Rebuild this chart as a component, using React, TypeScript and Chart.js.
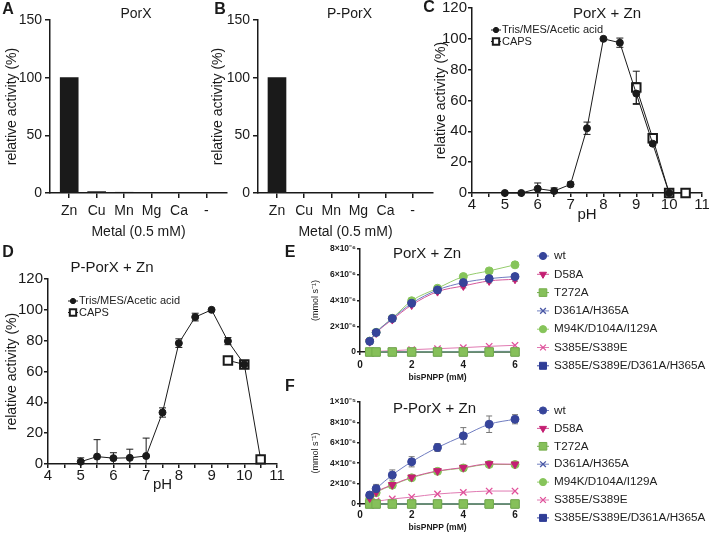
import React, { useEffect, useRef } from 'react';
import { Chart, registerables } from 'chart.js';

Chart.register(...registerables);

const FONT = '"Liberation Sans", Arial, Helvetica, sans-serif';
const INK = '#1a1a1a';

// ---------- data ----------
const metalLabels = ['Zn', 'Cu', 'Mn', 'Mg', 'Ca', '-'];
const metalTickPos = [0, 1, 2, 3, 4, 5];
const porXMetalActivity = [100, 1.2, 0.6, 0, 0, 0];
const pPorXMetalActivity = [100, 0, 0, 0, 0, 0];
const metalYTicks = [0, 50, 100, 150];

const phXTicks = [4, 4.5, 5, 5.5, 6, 6.5, 7, 7.5, 8, 8.5, 9, 9.5, 10, 10.5, 11];
const phYTicks = [0, 20, 40, 60, 80, 100, 120];
const bufferLabels = ['Tris/MES/Acetic acid', 'CAPS'];

const cTrisPH = [5, 5.5, 6, 6.5, 7, 7.5, 8, 8.5, 9, 9.5, 10];
const cTrisActivity = [0, 0, 2.8, 1.3, 5.6, 42, 100, 97.5, 64.5, 32, 0];
const cTrisError = [0, 0, 3.7, 2, 1.5, 4, 0, 3, 7, 1, 0];
const cCapsPH = [9, 9.5, 10, 10.5];
const cCapsActivity = [68.5, 35.5, 0, 0];
const cCapsError = [10.5, 1, 0, 0];

const dTrisPH = [5, 5.5, 6, 6.5, 7, 7.5, 8, 8.5, 9, 9.5, 10];
const dTrisActivity = [1.5, 4.8, 3.8, 4, 5.2, 33.4, 78.4, 95.3, 100, 79.7, 64.6];
const dTrisError = [2.5, 11, 3.5, 5.6, 11.6, 3, 2.8, 2.5, 0, 2.3, 0];
const dCapsPH = [9.5, 10, 10.5];
const dCapsActivity = [67.2, 64.6, 3];
const dCapsError = [1.5, 0, 0];

const mutantLabels = ['wt', 'D58A', 'T272A', 'D361A/H365A', 'M94K/D104A/I129A', 'S385E/S389E', 'S385E/S389E/D361A/H365A'];
const substrateMM = [0.375, 0.625, 1.25, 2, 3, 4, 5, 6];
const kinXTicks = [0, 2, 4, 6];

const eWt = [0.83e-6, 1.51e-6, 2.6e-6, 3.78e-6, 4.82e-6, 5.39e-6, 5.7e-6, 5.86e-6];
const eD58A = [0.8e-6, 1.48e-6, 2.52e-6, 3.65e-6, 4.69e-6, 5.13e-6, 5.52e-6, 5.65e-6];
const eT272A = [0, 0, 0, 0, 0, 0, 0, 0];
const eD361A = [0.02e-6, 0.02e-6, 0.03e-6, 0.03e-6, 0.04e-6, 0.04e-6, 0.05e-6, 0.05e-6];
const eM94K = [0.85e-6, 1.53e-6, 2.62e-6, 3.98e-6, 4.95e-6, 5.86e-6, 6.3e-6, 6.77e-6];
const eS385E = [0.04e-6, 0.05e-6, 0.1e-6, 0.18e-6, 0.26e-6, 0.34e-6, 0.44e-6, 0.52e-6];
const eQuad = [0, 0, 0, 0, 0, 0, 0, 0];
const eWtErr = [0.1e-6, 0.1e-6, 0.12e-6, 0.15e-6, 0.15e-6, 0.2e-6, 0.15e-6, 0.2e-6];
const eD58AErr = [0.1e-6, 0.1e-6, 0.15e-6, 0.1e-6, 0.15e-6, 0.15e-6, 0.15e-6, 0.15e-6];
const eYTicks = [0, 2e-6, 4e-6, 6e-6, 8e-6];
const eYTickLabels = ['0', '2×10⁻⁶', '4×10⁻⁶', '6×10⁻⁶', '8×10⁻⁶'];

const fWt = [0.88e-6, 1.5e-6, 2.84e-6, 4.14e-6, 5.54e-6, 6.68e-6, 7.82e-6, 8.31e-6];
const fD58A = [0.58e-6, 1.16e-6, 1.88e-6, 2.62e-6, 3.24e-6, 3.57e-6, 3.93e-6, 3.9e-6];
const fT272A = [0, 0, 0, 0, 0, 0, 0, 0];
const fD361A = [0.02e-6, 0.02e-6, 0.02e-6, 0.03e-6, 0.03e-6, 0.03e-6, 0.04e-6, 0.04e-6];
const fM94K = [0.52e-6, 1.1e-6, 1.84e-6, 2.57e-6, 3.2e-6, 3.53e-6, 3.88e-6, 3.87e-6];
const fS385E = [0.3e-6, 0.3e-6, 0.49e-6, 0.68e-6, 0.98e-6, 1.14e-6, 1.27e-6, 1.27e-6];
const fQuad = [0, 0, 0, 0, 0, 0, 0, 0];
const fWtErr = [0.15e-6, 0.42e-6, 0.5e-6, 0.5e-6, 0.39e-6, 0.81e-6, 0.81e-6, 0.45e-6];
const fD58AErr = [0.1e-6, 0.15e-6, 0.15e-6, 0.12e-6, 0.12e-6, 0.1e-6, 0.12e-6, 0.12e-6];
const fYTicks = [0, 2e-6, 4e-6, 6e-6, 8e-6, 1e-5];
const fYTickLabels = ['0', '2×10⁻⁶', '4×10⁻⁶', '6×10⁻⁶', '8×10⁻⁶', '1×10⁻⁵'];

// ---------- helpers ----------
const fixV = (w: number) => (s: any) => {
  s.width = w; s.paddingTop = 0; s.paddingBottom = 0; s.paddingLeft = 0; s.paddingRight = 0;
};
const fixH = (h: number) => (s: any) => {
  s.height = h; s.paddingTop = 0; s.paddingBottom = 0; s.paddingLeft = 0; s.paddingRight = 0;
};
const setTicks = (vals: number[]) => (s: any) => { s.ticks = vals.map((v) => ({ value: v })); };
const font = (size: number, weight: any = 'normal', lineHeight: number = 1.2) => ({ family: FONT, size, weight, lineHeight });
const axisLook = (tickLength: number, lw = 1.5) => ({
  offset: false,
  grid: { display: true, offset: false, drawOnChartArea: false, drawTicks: true, tickLength, color: INK, lineWidth: lw },
  border: { display: true, color: INK, width: lw },
});
const xy = (xs: number[], ys: number[]) => xs.map((x, i) => ({ x, y: ys[i] }));

function drawMarker(ctx: CanvasRenderingContext2D, style: string, x: number, y: number, r: number, rot: number, fill: string, stroke: string, bw: number) {
  ctx.save();
  ctx.translate(x, y);
  ctx.rotate((rot * Math.PI) / 180);
  ctx.beginPath();
  let fillIt = true;
  if (style === 'circle') {
    ctx.arc(0, 0, r, 0, Math.PI * 2);
  } else if (style === 'rect') {
    const s = r * Math.SQRT1_2;
    ctx.rect(-s, -s, 2 * s, 2 * s);
  } else if (style === 'triangle') {
    for (let k = 0; k < 3; k++) {
      const a = (k * 2 * Math.PI) / 3;
      const px = Math.sin(a) * r, py = -Math.cos(a) * r;
      if (k === 0) ctx.moveTo(px, py); else ctx.lineTo(px, py);
    }
    ctx.closePath();
  } else if (style === 'crossRot') {
    const c = r * Math.SQRT1_2;
    ctx.moveTo(-c, -c); ctx.lineTo(c, c);
    ctx.moveTo(-c, c); ctx.lineTo(c, -c);
    fillIt = false;
  }
  if (fillIt) { ctx.fillStyle = fill; ctx.fill(); }
  ctx.lineWidth = bw; ctx.strokeStyle = stroke; ctx.stroke();
  ctx.restore();
}

const textPlugin = {
  id: 'panelText',
  afterDraw(chart: any, _a: any, opts: any) {
    const ctx = chart.ctx;
    (opts.items || []).forEach((it: any) => {
      ctx.save();
      ctx.font = it.font;
      ctx.fillStyle = INK;
      ctx.textAlign = it.align || 'center';
      ctx.textBaseline = 'middle';
      ctx.fillText(it.text, it.x, it.y);
      ctx.restore();
    });
  },
};

const errorBarPlugin = {
  id: 'errorBars',
  beforeDatasetsDraw(chart: any) {
    const { ctx, chartArea } = chart;
    ctx.save();
    ctx.beginPath();
    ctx.rect(chartArea.left - 20, chartArea.top - 20, chartArea.width + 40, chartArea.height + 20);
    ctx.clip();
    chart.data.datasets.forEach((ds: any, i: number) => {
      if (!ds.errors) return;
      const meta = chart.getDatasetMeta(i);
      const ys = chart.scales[meta.yAxisID];
      ctx.strokeStyle = ds.errorColor || INK;
      ctx.lineWidth = ds.errorWidth || 1;
      meta.data.forEach((pt: any, j: number) => {
        const e = ds.errors[j];
        if (!e) return;
        const v = ds.data[j].y;
        const y1 = ys.getPixelForValue(v + e);
        const y2 = ys.getPixelForValue(v - e);
        const cap = ds.errorCap || 3;
        ctx.beginPath();
        ctx.moveTo(pt.x, y1); ctx.lineTo(pt.x, y2);
        ctx.moveTo(pt.x - cap, y1); ctx.lineTo(pt.x + cap, y1);
        ctx.moveTo(pt.x - cap, y2); ctx.lineTo(pt.x + cap, y2);
        ctx.stroke();
      });
    });
    ctx.restore();
  },
};

const legendPlugin = {
  id: 'markerLegend',
  afterDraw(chart: any, _a: any, opts: any) {
    if (!opts || !opts.order) return;
    const ctx = chart.ctx;
    opts.order.forEach((dsIndex: number, k: number) => {
      const ds = chart.data.datasets[dsIndex];
      const x = opts.x;
      const y = opts.y + k * opts.dy;
      ctx.save();
      ctx.strokeStyle = ds.borderColor;
      ctx.lineWidth = 1;
      ctx.beginPath();
      ctx.moveTo(x - opts.half, y); ctx.lineTo(x + opts.half, y);
      ctx.stroke();
      drawMarker(ctx, ds.pointStyle, x, y, ds.pointRadius * opts.scale, ds.pointRotation || 0, ds.pointBackgroundColor, ds.pointBorderColor, ds.pointBorderWidth);
      ctx.font = opts.font;
      ctx.fillStyle = '#222';
      ctx.textAlign = 'left';
      ctx.textBaseline = 'middle';
      ctx.fillText(ds.label, x + opts.gap, y);
      ctx.restore();
    });
  },
};

// ---------- chart configs ----------
function metalConfig(values: number[], o: any) {
  return {
    type: 'bar',
    data: {
      datasets: [{
        data: xy(metalTickPos, values),
        backgroundColor: INK,
        borderWidth: 0,
        barThickness: 18,
      }],
    },
    options: {
      responsive: false, animation: false, devicePixelRatio: 1,
      layout: { autoPadding: false, padding: { left: 0, top: 20, right: o.padRight, bottom: 0 } },
      plugins: { legend: { display: false }, tooltip: { enabled: false }, panelText: { items: o.texts } },
      scales: {
        x: {
          type: 'linear', min: -0.7, max: 5.75, ...axisLook(5),
          afterFit: fixH(57), afterBuildTicks: setTicks(metalTickPos),
          ticks: { font: font(14, 'normal', 1), color: INK, padding: 6, maxRotation: 0, autoSkip: false, callback: (v: any) => metalLabels[v] ?? '' },
          title: { display: true, text: 'Metal (0.5 mM)', font: font(14), color: INK, padding: { top: 0, bottom: 9.6 } },
        },
        y: {
          min: 0, max: 150, ...axisLook(5),
          afterFit: fixV(o.yWidth), afterBuildTicks: setTicks(metalYTicks),
          ticks: { font: font(14, 'normal', 1), color: INK, padding: 3 },
          title: { display: true, text: 'relative activity (%)', font: font(14), color: INK, padding: { top: o.yTitlePad, bottom: 0 } },
        },
      },
    },
    plugins: [textPlugin],
  };
}

function phConfig(trisX: number[], trisY: number[], trisE: number[], capsX: number[], capsY: number[], capsE: number[], o: any) {
  return {
    type: 'line',
    data: {
      datasets: [
        {
          label: bufferLabels[0], data: xy(trisX, trisY), errors: trisE, errorCap: 3.5,
          borderColor: INK, borderWidth: 1, tension: 0, clip: false,
          pointStyle: 'circle', pointRadius: 3.5, pointBackgroundColor: INK, pointBorderColor: INK, pointBorderWidth: 1,
        },
        {
          label: bufferLabels[1], data: xy(capsX, capsY), errors: capsE, errorCap: 3.5,
          borderColor: INK, borderWidth: 1, tension: 0, clip: false,
          pointStyle: 'rect', pointRadius: 6, pointBackgroundColor: '#ffffff', pointBorderColor: INK, pointBorderWidth: 2,
        },
      ],
    },
    options: {
      responsive: false, animation: false, devicePixelRatio: 1,
      layout: { autoPadding: false, padding: { left: 0, top: o.padTop, right: o.padRight, bottom: 0 } },
      plugins: {
        legend: { display: false }, tooltip: { enabled: false },
        panelText: { items: o.texts },
        markerLegend: { order: [0, 1], x: o.legX, y: o.legY, dy: 11.5, half: 5, gap: 6, scale: 0.75, font: `11px ${FONT}` },
      },
      scales: {
        x: {
          type: 'linear', min: 4, max: 11, ...axisLook(4),
          afterFit: fixH(o.xHeight), afterBuildTicks: setTicks(phXTicks),
          ticks: { font: font(15, 'normal', 1), color: INK, padding: o.xTickPad, maxRotation: 0, autoSkip: false, callback: (v: any) => (Number.isInteger(v) ? String(v) : '') },
          title: { display: true, text: 'pH', font: font(15), color: INK, padding: { top: 0, bottom: o.xTitlePad } },
        },
        y: {
          min: 0, max: 120, ...axisLook(4),
          afterFit: fixV(o.yWidth), afterBuildTicks: setTicks(phYTicks),
          ticks: { font: font(15, 'normal', 1), color: INK, padding: 1 },
          title: { display: true, text: 'relative activity (%)', font: font(14), color: INK, padding: { top: o.yTitlePad, bottom: 0 } },
        },
      },
    },
    plugins: [errorBarPlugin, textPlugin, legendPlugin],
  };
}

const mutantStyles = [
  { line: '#6f7cc0', fill: '#36449a', stroke: '#36449a', style: 'circle', r: 4, rot: 0, bw: 1 },
  { line: '#d4579a', fill: '#c41f72', stroke: '#c41f72', style: 'triangle', r: 4.5, rot: 180, bw: 1 },
  { line: '#6faa48', fill: '#86c05a', stroke: '#74ad4a', style: 'rect', r: 6, rot: 0, bw: 1 },
  { line: '#7080c0', fill: '#4a58a6', stroke: '#4a58a6', style: 'crossRot', r: 4.5, rot: 0, bw: 1.3 },
  { line: '#94cc6c', fill: '#86c45a', stroke: '#86c45a', style: 'circle', r: 4, rot: 0, bw: 1 },
  { line: '#e07ab2', fill: '#e0509a', stroke: '#e0509a', style: 'crossRot', r: 4.5, rot: 0, bw: 1.3 },
  { line: '#3a48a0', fill: '#2f3d96', stroke: '#2f3d96', style: 'rect', r: 5.5, rot: 0, bw: 1 },
];

function kinConfig(series: number[][], errs: (number[] | null)[], yMax: number, yTicks: number[], yLabels: string[], o: any) {
  return {
    type: 'line',
    data: {
      datasets: series.map((vals, i) => {
        const st = mutantStyles[i];
        return {
          label: mutantLabels[i], data: xy(substrateMM, vals), errors: errs[i], errorColor: '#777', errorCap: 3,
          borderColor: st.line, borderWidth: 1, tension: 0.4, cubicInterpolationMode: 'monotone', clip: false,
          pointStyle: st.style, pointRadius: st.r, pointRotation: st.rot,
          pointBackgroundColor: st.fill, pointBorderColor: st.stroke, pointBorderWidth: st.bw,
        };
      }),
    },
    options: {
      responsive: false, animation: false, devicePixelRatio: 1,
      layout: { autoPadding: false, padding: { left: 0, top: o.padTop, right: 194, bottom: 0 } },
      plugins: {
        legend: { display: false }, tooltip: { enabled: false },
        panelText: { items: o.texts },
        markerLegend: { order: [0, 1, 2, 3, 4, 5, 6], x: 263, y: o.legY, dy: o.legDy, half: 6, gap: 11, scale: 0.9, font: `11.7px ${FONT}` },
      },
      scales: {
        x: {
          type: 'linear', min: 0, max: 6, ...axisLook(3),
          afterFit: fixH(o.xHeight), afterBuildTicks: setTicks(kinXTicks),
          ticks: { font: font(10, 'bold', 1), color: INK, padding: o.xTickPad, maxRotation: 0, autoSkip: false },
          title: { display: true, text: 'bisPNPP (mM)', font: font(8.5, 'bold'), color: INK, padding: { top: 0, bottom: o.xTitlePad } },
        },
        y: {
          min: 0, max: yMax, ...axisLook(3),
          afterFit: fixV(80), afterBuildTicks: setTicks(yTicks),
          ticks: { font: font(8.5, 'bold', 1), color: INK, padding: 1, callback: (_v: any, idx: number) => yLabels[idx] },
          title: { display: true, text: '(mmol s⁻¹)', font: font(9), color: INK, padding: { top: 30, bottom: 0 } },
        },
      },
    },
    plugins: [errorBarPlugin, textPlugin, legendPlugin],
  };
}

// ---------- panels ----------
function Panel({ left, top, width, height, config }: any) {
  const ref = useRef<HTMLCanvasElement>(null);
  useEffect(() => {
    const chart = new Chart(ref.current as HTMLCanvasElement, config() as any);
    return () => chart.destroy();
  }, []);
  return <canvas ref={ref} width={width} height={height} style={{ position: 'absolute', left, top, width, height }} />;
}

const letter = (t: string, x: number, y: number) => ({ text: t, x, y, font: `bold 16px ${FONT}` });
const title = (t: string, x: number, y: number, size = 15) => ({ text: t, x, y, font: `${size}px ${FONT}` });

export default function App() {
  return (
    <div style={{ position: 'fixed', left: 0, top: 0, width: 709, height: 536, background: '#ffffff', overflow: 'hidden' }}>
      <Panel left={0} top={0} width={232} height={250}
        config={() => metalConfig(porXMetalActivity, { padRight: 5, yWidth: 50, yTitlePad: 4, texts: [letter('A', 8, 10), title('PorX', 136, 14, 14)] })} />
      <Panel left={205} top={0} width={232} height={250}
        config={() => metalConfig(pPorXMetalActivity, { padRight: 4, yWidth: 53, yTitlePad: 4.6, texts: [letter('B', 15, 10), title('P-PorX', 144.5, 14, 14)] })} />
      <Panel left={415} top={0} width={294} height={250}
        config={() => phConfig(cTrisPH, cTrisActivity, cTrisError, cCapsPH, cCapsActivity, cCapsError, {
          padTop: 8, padRight: 7, xHeight: 57, yWidth: 57, yTitlePad: 17.6, xTickPad: 0, xTitlePad: 26,
          legX: 81, legY: 30, texts: [letter('C', 14, 8), title('PorX + Zn', 192, 14)],
        })} />
      <Panel left={0} top={240} width={290} height={296}
        config={() => phConfig(dTrisPH, dTrisActivity, dTrisError, dCapsPH, dCapsActivity, dCapsError, {
          padTop: 39, padRight: 13, xHeight: 72, yWidth: 48, yTitlePad: 3.6, xTickPad: 0, xTitlePad: 42,
          legX: 73, legY: 61, texts: [letter('D', 8, 13), title('P-PorX + Zn', 112, 28)],
        })} />
      <Panel left={280} top={240} width={429} height={150}
        config={() => kinConfig([eWt, eD58A, eT272A, eD361A, eM94K, eS385E, eQuad], [eWtErr, eD58AErr, null, null, null, null, null], 8e-6, eYTicks, eYTickLabels, {
          padTop: 9, xHeight: 38, xTickPad: 5, xTitlePad: 6.9, legY: 16, legDy: 18.3,
          texts: [letter('E', 10, 13), title('PorX + Zn', 147, 14)],
        })} />
      <Panel left={280} top={375} width={429} height={161}
        config={() => kinConfig([fWt, fD58A, fT272A, fD361A, fM94K, fS385E, fQuad], [fWtErr, fD58AErr, null, null, null, null, null], 1e-5, fYTicks, fYTickLabels, {
          padTop: 27, xHeight: 32, xTickPad: 3, xTitlePad: 2.9, legY: 35.5, legDy: 17.9,
          texts: [letter('F', 10, 12), title('P-PorX + Zn', 154.5, 34)],
        })} />
    </div>
  );
}
